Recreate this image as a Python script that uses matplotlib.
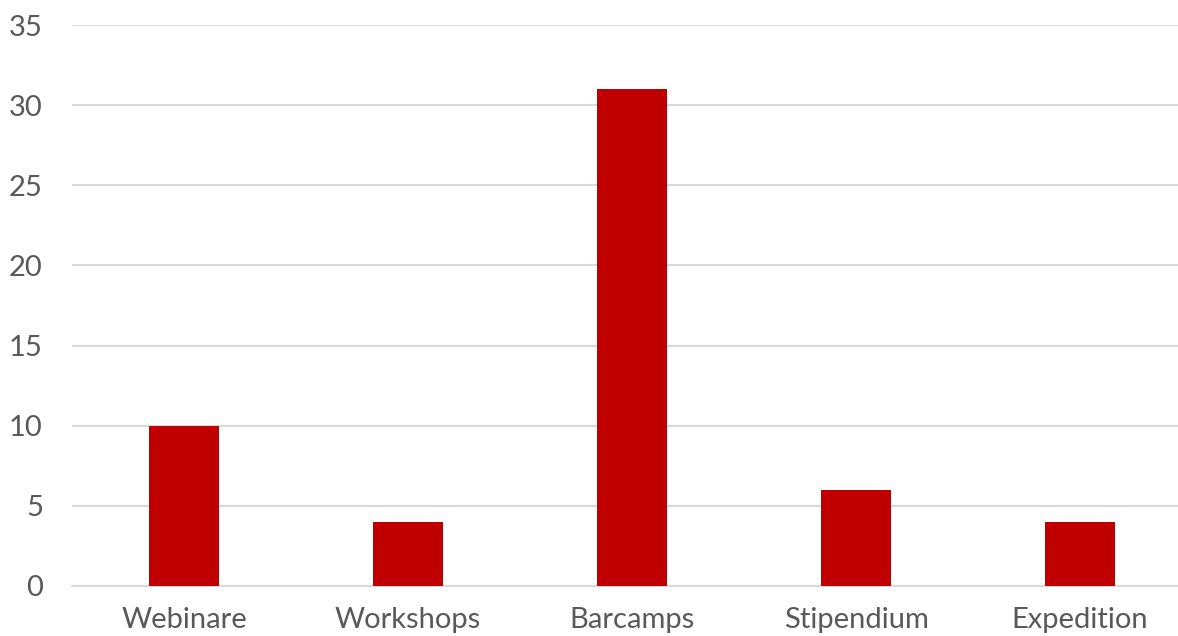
import matplotlib.pyplot as plt

kategorien = ['Webinare', 'Workshops', 'Barcamps', 'Stipendium', 'Expedition']
anzahl = [10, 4, 31, 6, 4]
yticks = [0, 5, 10, 15, 20, 25, 30, 35]

plt.rcParams['font.family'] = ['Lato', 'DejaVu Sans']

fig = plt.figure(figsize=(11.78, 6.36), dpi=100)
# axes right edge runs a bit past the picture, as in the original
ax = fig.add_axes([72 / 1178, (636 - 586) / 636, 1120 / 1178, 561 / 636])

x = range(len(kategorien))
ax.bar(x, anzahl, width=0.3125, color='#c00000', zorder=3)

ax.set_xlim(-0.5, len(kategorien) - 0.5)
ax.set_ylim(0, 35)
ax.set_yticks(yticks)
ax.set_xticks(list(x))
ax.set_xticklabels(kategorien)

ax.grid(axis='y', color='#d9d9d9', linewidth=1.5, zorder=0)
for s in ['top', 'right', 'left']:
    ax.spines[s].set_visible(False)
ax.spines['bottom'].set_color('#d9d9d9')
ax.spines['bottom'].set_linewidth(1.5)

ax.tick_params(axis='both', length=0, labelsize=21, labelcolor='#595959')
ax.tick_params(axis='y', pad=21)
ax.tick_params(axis='x', pad=15)

fig.savefig('out.png', dpi=100)
